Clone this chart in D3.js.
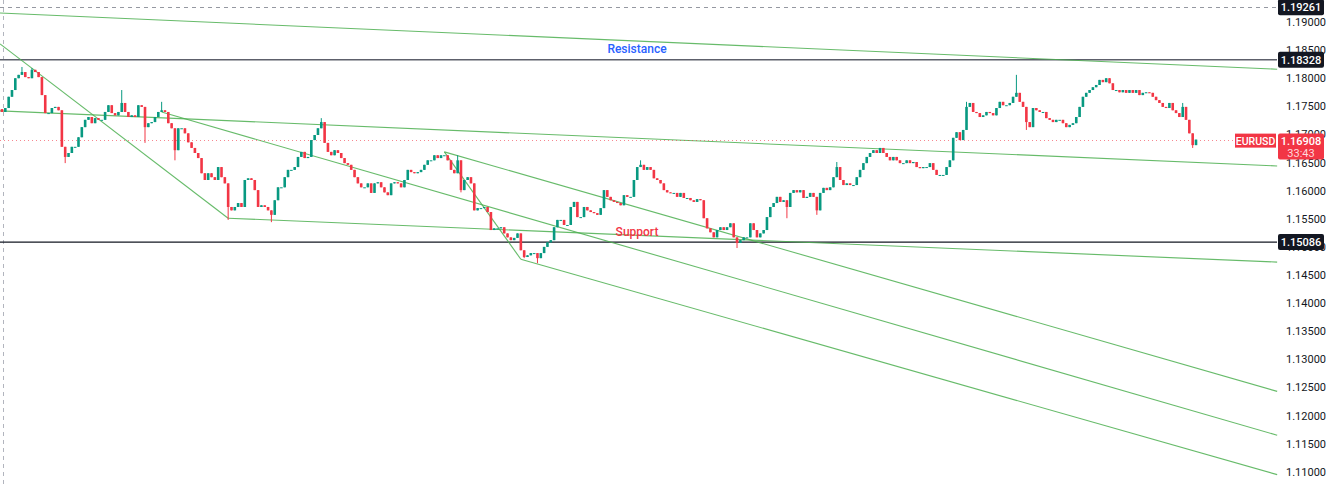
<!DOCTYPE html>
<html><head><meta charset="utf-8">
<script src="https://cdn.jsdelivr.net/npm/d3@7"></script>
<style>html,body{margin:0;padding:0;background:#fff;overflow:hidden}svg{display:block}</style>
</head><body>
<svg id="c" width="1329" height="484"></svg>
<script>
// ---- data ----
const firstOpen = 1.1745;
const closes = [
1.1740,1.1747,1.1767,1.1779,1.1800,1.1806,1.1811,1.1802,1.1800,1.1815,
1.1811,1.1802,1.1770,1.1738,1.1738,1.1747,1.1749,1.1743,1.1678,1.1660,
1.1667,1.1678,1.1678,1.1695,1.1713,1.1726,1.1731,1.1720,1.1729,1.1726,
1.1726,1.1740,1.1752,1.1738,1.1734,1.1740,1.1756,1.1740,1.1731,1.1734,
1.1731,1.1752,1.1749,1.1713,1.1720,1.1722,1.1731,1.1740,1.1743,1.1740,
1.1720,1.1711,1.1672,1.1711,1.1711,1.1702,1.1686,1.1676,1.1667,1.1658,
1.1631,1.1619,1.1631,1.1624,1.1619,1.1642,1.1624,1.1613,1.1571,1.1565,
1.1571,1.1578,1.1571,1.1619,1.1622,1.1619,1.1601,1.1571,1.1574,1.1571,
1.1565,1.1557,1.1583,1.1606,1.1606,1.1624,1.1637,1.1637,1.1642,1.1660,
1.1669,1.1658,1.1660,1.1690,1.1699,1.1711,1.1722,1.1685,1.1669,1.1663,
1.1672,1.1667,1.1658,1.1649,1.1646,1.1637,1.1624,1.1613,1.1606,1.1606,
1.1613,1.1596,1.1613,1.1615,1.1606,1.1597,1.1592,1.1613,1.1615,1.1613,
1.1606,1.1619,1.1637,1.1633,1.1631,1.1633,1.1637,1.1646,1.1654,1.1654,
1.1663,1.1658,1.1663,1.1663,1.1654,1.1637,1.1631,1.1654,1.1601,1.1619,
1.1624,1.1613,1.1565,1.1569,1.1569,1.1571,1.1562,1.1530,1.1533,1.1533,
1.1535,1.1524,1.1517,1.1512,1.1516,1.1524,1.1494,1.1482,1.1485,1.1489,
1.1489,1.1480,1.1489,1.1500,1.1508,1.1512,1.1535,1.1548,1.1548,1.1539,
1.1539,1.1571,1.1580,1.1553,1.1553,1.1571,1.1565,1.1562,1.1560,1.1557,
1.1569,1.1601,1.1589,1.1583,1.1580,1.1578,1.1574,1.1592,1.1589,1.1589,
1.1619,1.1642,1.1646,1.1637,1.1642,1.1637,1.1622,1.1619,1.1613,1.1601,
1.1597,1.1596,1.1596,1.1589,1.1596,1.1587,1.1587,1.1583,1.1580,1.1585,
1.1583,1.1551,1.1533,1.1526,1.1517,1.1530,1.1535,1.1530,1.1535,1.1542,
1.1517,1.1507,1.1512,1.1517,1.1517,1.1542,1.1530,1.1517,1.1524,1.1530,
1.1553,1.1571,1.1578,1.1589,1.1580,1.1583,1.1571,1.1596,1.1601,1.1597,
1.1601,1.1587,1.1589,1.1596,1.1589,1.1565,1.1596,1.1605,1.1601,1.1606,
1.1624,1.1642,1.1619,1.1610,1.1613,1.1610,1.1610,1.1624,1.1637,1.1649,
1.1660,1.1667,1.1672,1.1667,1.1676,1.1667,1.1660,1.1654,1.1660,1.1654,
1.1649,1.1649,1.1654,1.1649,1.1651,1.1642,1.1640,1.1642,1.1642,1.1649,
1.1637,1.1628,1.1628,1.1628,1.1642,1.1654,1.1694,1.1704,1.1690,1.1708,
1.1749,1.1756,1.1740,1.1738,1.1731,1.1734,1.1740,1.1738,1.1734,1.1747,
1.1758,1.1752,1.1752,1.1756,1.1767,1.1774,1.1758,1.1749,1.1722,1.1713,
1.1747,1.1743,1.1740,1.1740,1.1729,1.1726,1.1722,1.1726,1.1726,1.1720,
1.1713,1.1717,1.1720,1.1731,1.1749,1.1767,1.1774,1.1779,1.1784,1.1788,
1.1797,1.1793,1.1800,1.1791,1.1779,1.1779,1.1775,1.1779,1.1774,1.1779,
1.1774,1.1779,1.1770,1.1774,1.1775,1.1774,1.1767,1.1761,1.1756,1.1749,
1.1747,1.1756,1.1743,1.1738,1.1731,1.1749,1.1726,1.1702,1.1681,1.16908
];
// [candle index, price] — wick extremes
const highSpikes = [[6,1.1820],[9,1.1818],[36,1.1779],[48,1.1758],[96,1.1729],[137,1.1663],[192,1.1654],[251,1.1651],[290,1.1758],[305,1.1806],[355,1.1756]];
const lowSpikes = [[19,1.1649],[43,1.1685],[52,1.1654],[68,1.1548],[81,1.1544],[138,1.1597],[157,1.1480],[161,1.1471],[221,1.1498],[236,1.1551],[245,1.1557],[308,1.1708],[358,1.1676]];

const priceTicks = [1.19,1.185,1.18,1.175,1.17,1.165,1.16,1.155,1.15,1.145,1.14,1.135,1.13,1.125,1.12,1.115,1.11];
const highLine = 1.19261, resistanceLevel = 1.18328, supportLevel = 1.15086, lastPrice = 1.16908;
const symbol = "EURUSD", countdown = "33:43";
// trendlines: [index1, price1, index2, price2]
const trendlines = [
  [-0.6,1.1916, 383.4,1.1816],
  [-0.6,1.1861, 68,1.1551],
  [68,1.1551, 383.4,1.1473],
  [-0.6,1.1742, 383.4,1.1644],
  [48,1.1740, 383.4,1.1165],
  [133,1.1669, 383.4,1.1243],
  [133,1.1669, 156,1.1478],
  [156,1.1478, 383.4,1.1095]
];

// ---- chart ----
const W = 1329, H = 484, plotRight = 1277;
const svg = d3.select("#c");
const x = d3.scaleLinear().domain([0, closes.length - 1]).range([2, 1196]);
const y = d3.scaleLinear().domain([1.11, 1.19]).range([471.8, 22]);
const UP = "#089981", DN = "#F23645";
const FONT = "Roboto, 'Noto Sans', sans-serif";

const candles = closes.map((c, i) => {
  const o = i === 0 ? firstOpen : closes[i - 1];
  return {i, o, c, h: Math.max(o, c), l: Math.min(o, c)};
});
highSpikes.forEach(([i, p]) => { candles[i].h = Math.max(candles[i].h, p); });
lowSpikes.forEach(([i, p]) => { candles[i].l = Math.min(candles[i].l, p); });

// dashed helpers
svg.append("line").attr("x1", 3.5).attr("x2", 3.5).attr("y1", 0).attr("y2", H)
  .attr("stroke", "#b2b5be").attr("stroke-dasharray", "4,4");
svg.append("line").attr("x1", 0).attr("x2", plotRight).attr("y1", Math.round(y(highLine)) + 0.5).attr("y2", Math.round(y(highLine)) + 0.5)
  .attr("stroke", "#9598a1").attr("stroke-dasharray", "4,4");

// horizontal levels
svg.append("line").attr("x1", 0).attr("x2", plotRight).attr("y1", y(resistanceLevel)).attr("y2", y(resistanceLevel))
  .attr("stroke", "#5d606b").attr("stroke-width", 1.5);
svg.append("line").attr("x1", 0).attr("x2", plotRight).attr("y1", y(supportLevel)).attr("y2", y(supportLevel))
  .attr("stroke", "#131722").attr("stroke-width", 1.2);

// trendlines
svg.append("g").selectAll("line").data(trendlines).join("line")
  .attr("x1", d => x(d[0])).attr("y1", d => y(d[1])).attr("x2", d => x(d[2])).attr("y2", d => y(d[3]))
  .attr("stroke", "#4caf50").attr("stroke-opacity", 0.85).attr("stroke-width", 1.1);

// last price dotted line
svg.append("line").attr("x1", 0).attr("x2", 1235).attr("y1", Math.round(y(lastPrice)) + 0.5).attr("y2", Math.round(y(lastPrice)) + 0.5)
  .attr("stroke", DN).attr("stroke-opacity", 0.6).attr("stroke-dasharray", "1,3");

// candles
const g = svg.append("g");
g.selectAll("line.w").data(candles).join("line").attr("class", "w")
  .attr("x1", d => x(d.i)).attr("x2", d => x(d.i))
  .attr("y1", d => y(d.h)).attr("y2", d => y(d.l))
  .attr("stroke", d => d.c >= d.o ? UP : DN).attr("stroke-width", 1);
g.selectAll("rect").data(candles).join("rect")
  .attr("x", d => x(d.i) - 1.3).attr("width", 2.6)
  .attr("y", d => y(Math.max(d.o, d.c)))
  .attr("height", d => Math.max(1, Math.abs(y(d.o) - y(d.c))))
  .attr("fill", d => d.c >= d.o ? UP : DN);

// annotations
svg.append("text").attr("x", 637).attr("y", 53).attr("text-anchor", "middle")
  .attr("font-family", FONT).attr("font-size", 12).attr("font-weight", 500)
  .attr("fill", "#2962ff").text("Resistance");
svg.append("text").attr("x", 637).attr("y", 236).attr("text-anchor", "middle")
  .attr("font-family", FONT).attr("font-size", 12).attr("font-weight", 500)
  .attr("fill", DN).text("Support");

// price axis
const axisG = svg.append("g").attr("transform", `translate(${plotRight},0)`);
const axis = d3.axisRight(y).tickValues(priceTicks).tickFormat(d3.format(".5f")).tickSize(0).tickPadding(9);
axisG.call(axis);
axisG.select(".domain").remove();
axisG.selectAll("text").attr("font-family", FONT).attr("font-size", 11).attr("fill", "#131722");

// level labels
const fmt = d3.format(".5f");
function tag(price, bg) {
  const cy = y(price);
  axisG.append("rect").attr("x", 1).attr("y", cy - 8).attr("width", 46).attr("height", 16).attr("rx", 2).attr("fill", bg);
  axisG.append("text").attr("x", 24).attr("y", cy + 4).attr("text-anchor", "middle")
    .attr("font-family", FONT).attr("font-size", 11).attr("font-weight", 500)
    .attr("fill", "#fff").text(fmt(price));
}
tag(highLine, "#131722");
tag(resistanceLevel, "#131722");
tag(supportLevel, "#131722");

// last price tag
const ly = y(lastPrice);
axisG.append("rect").attr("x", 1).attr("y", ly - 6).attr("width", 46).attr("height", 26).attr("rx", 2).attr("fill", DN);
axisG.append("text").attr("x", 24).attr("y", ly + 5).attr("text-anchor", "middle")
  .attr("font-family", FONT).attr("font-size", 11).attr("font-weight", 500)
  .attr("fill", "#fff").text(fmt(lastPrice));
axisG.append("text").attr("x", 24).attr("y", ly + 17).attr("text-anchor", "middle")
  .attr("font-family", FONT).attr("font-size", 11)
  .attr("fill", "#ffd9dd").text(countdown);
svg.append("rect").attr("x", 1235).attr("y", ly - 6).attr("width", 41).attr("height", 14).attr("fill", DN);
svg.append("text").attr("x", 1255.5).attr("y", ly + 5).attr("text-anchor", "middle")
  .attr("font-family", FONT).attr("font-size", 10.5).attr("font-weight", 500)
  .attr("fill", "#fff").text(symbol);
</script>
</body></html>
